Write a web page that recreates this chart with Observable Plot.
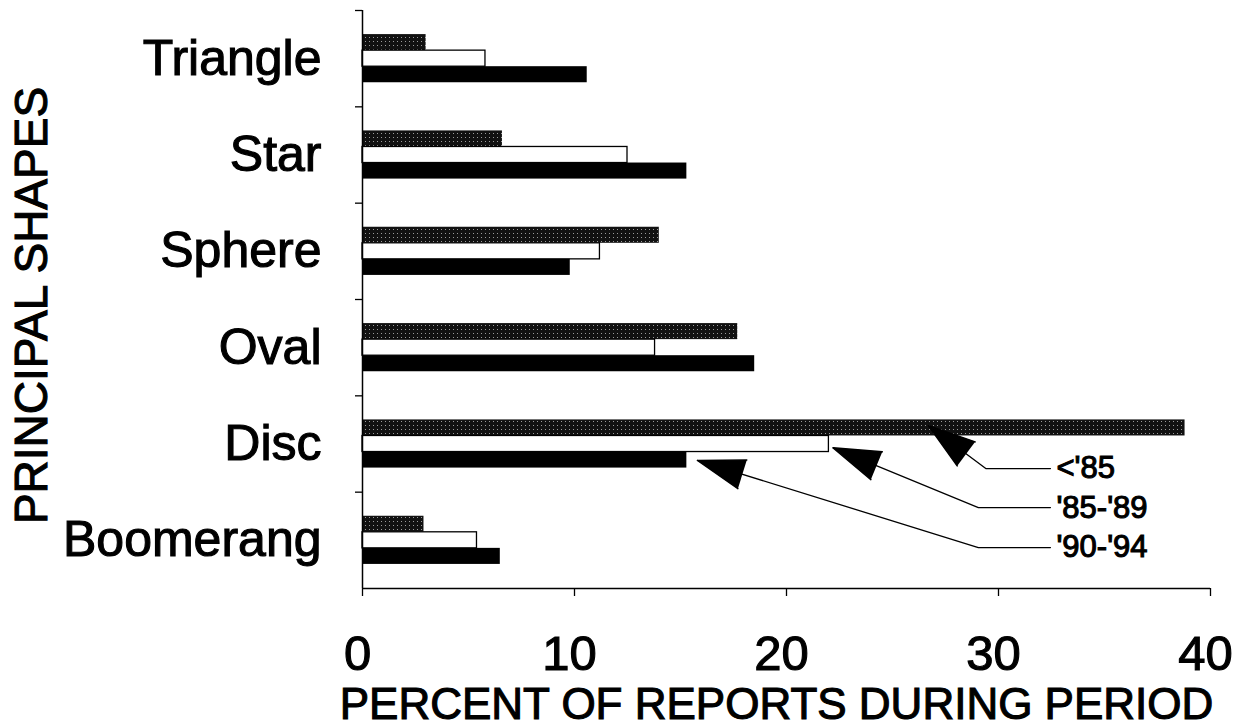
<!DOCTYPE html>
<html><head><meta charset="utf-8">
<script src="https://cdn.jsdelivr.net/npm/d3@7"></script>
<script src="https://cdn.jsdelivr.net/npm/@observablehq/plot@0.6"></script>
<style>body{margin:0;background:#fff;} #chart svg{display:block;} #chart svg text{stroke:#000;stroke-width:1.1px;}</style>
</head><body><div id="chart"></div>
<script>
// ---- data ----
const shapes = ["Triangle", "Star", "Sphere", "Oval", "Disc", "Boomerang"];
const periods = ["<'85", "'85-'89", "'90-'94"];
const before85 = [3.0, 6.6, 14.0, 17.7, 38.8, 2.9];
const from85to89 = [5.8, 12.5, 11.2, 13.8, 22.0, 5.4];
const from90to94 = [10.6, 15.3, 9.8, 18.5, 15.3, 6.5];
const xTicks = [0, 10, 20, 30, 40];
const xLabel = "PERCENT OF REPORTS DURING PERIOD";
const yLabel = "PRINCIPAL SHAPES";
// legend annotation anchors (data units)
const legendTipX = [26.7, 22.2, 15.8];
const legendTipY = [4.31, 4.54, 4.67];
const legendRowY = [4.755, 5.16, 5.575];
const legendElbowX = [29.4, 29.05, 29.05];
const legendEndX = 32.45;

// ---- layout ----
const W = 1238, H = 727, mL = 362, mR = 28, mT = 10, mB = 139;
const slots = 6; // band divided into 6 slots: 1.5 gap, 3 bars, 1.5 gap
const series = [before85, from85to89, from90to94];
const rows = shapes.flatMap((s, i) => series.map((vals, p) => ({shape: s, i, p, period: periods[p], value: vals[i]})));
const pxX = (W - mL - mR) / 40, pxY = (H - mT - mB) / shapes.length;
const items = periods.map((label, k) => ({
  label, tipX: legendTipX[k], tipY: legendTipY[k], rowY: legendRowY[k], elbowX: legendElbowX[k],
  rot: Math.atan2((legendTipX[k] - legendElbowX[k]) * pxX, -(legendTipY[k] - legendRowY[k]) * pxY) * 180 / Math.PI
}));
const leader = items.flatMap((d, k) => [
  {k, x: legendEndX, y: d.rowY}, {k, x: d.elbowX, y: d.rowY}, {k, x: d.tipX, y: d.tipY}
]);
const barStyle = [
  {fill: "url(#stip)"},
  {fill: "white", stroke: "black", strokeWidth: 1.3},
  {fill: "black"}
];

const plot = Plot.plot({
  width: W, height: H,
  marginLeft: mL, marginRight: mR, marginTop: mT, marginBottom: mB,
  style: {fontFamily: "'Liberation Sans', Arial, sans-serif", background: "white", color: "black"},
  x: {domain: [0, 40]},
  y: {domain: [0, shapes.length], reverse: true},
  marks: [
    ...barStyle.map((st, p) => Plot.rect(rows.filter(d => d.p === p), {
      x1: 0, x2: "value",
      y1: d => d.i + (1.5 + d.p) / slots,
      y2: d => d.i + (2.5 + d.p) / slots,
      ...st
    })),
    Plot.ruleX([0], {stroke: "black", strokeWidth: 1.5}),
    Plot.ruleY([shapes.length], {stroke: "black", strokeWidth: 1.5}),
    Plot.axisY(shapes.map((s, i) => i + 0.5), {tickSize: 0, tickPadding: 41, fontSize: 50, tickFormat: v => shapes[Math.floor(v)], label: null}),
    Plot.axisY(d3.range(shapes.length), {tickSize: 7, tickFormat: () => "", label: null, strokeWidth: 1.3}),
    Plot.axisX(xTicks, {tickSize: 8, tickFormat: () => "", label: null, strokeWidth: 1.3}),
    Plot.axisX(xTicks, {tickSize: 0, tickPadding: 47, fontSize: 49, dx: -5, label: null}),
    Plot.line(leader, {x: "x", y: "y", z: "k", stroke: "black", strokeWidth: 1.3}),
    Plot.vector(items, {x: "tipX", y: "tipY", rotate: "rot", length: 47, r: 15, anchor: "end", shape: "spike", fill: "black", stroke: "black"}),
    Plot.text(items, {x: legendEndX, y: "rowY", text: "label", textAnchor: "start", lineAnchor: "middle", dx: 6, fontSize: 31}),
    Plot.text([xLabel], {frameAnchor: "bottom", text: d => d, fontSize: 44, textAnchor: "middle", lineAnchor: "middle", dy: 116, dx: -10}),
    Plot.text([yLabel], {frameAnchor: "left", text: d => d, fontSize: 46, rotate: -90, textAnchor: "middle", lineAnchor: "middle", dx: -330, dy: 6})
  ]
});
document.getElementById("chart").appendChild(plot);
d3.select(plot).insert("defs", ":first-child").html(
  '<pattern id="stip" width="4" height="4" patternUnits="userSpaceOnUse">' +
  '<rect width="4" height="4" fill="#111"/><rect x="1" y="1" width="1" height="1" fill="#9a9a9a"/></pattern>'
);
</script>
</body></html>
